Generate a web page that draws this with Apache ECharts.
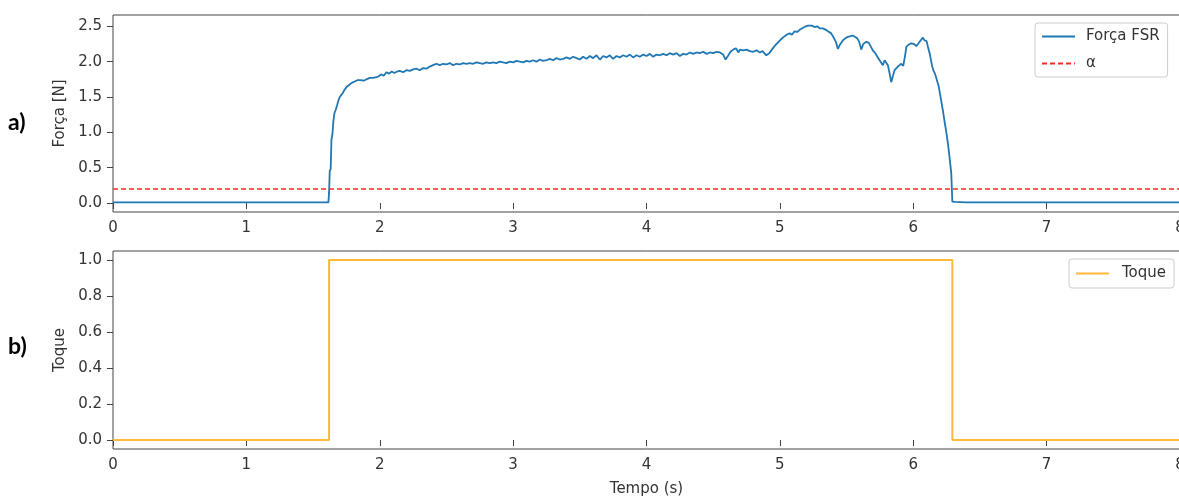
<!DOCTYPE html>
<html><head><meta charset="utf-8">
<script src="https://cdn.jsdelivr.net/npm/echarts@6/dist/echarts.min.js"></script>
<style>html,body{margin:0;padding:0;background:#fff}#c{width:1179px;height:497px}</style>
</head><body><div id="c"></div>
<script>
// ---- data ----
const fsrTime = [0,1.615,1.620,1.625,1.632,1.638,1.645,1.652,1.660,1.670,1.680,1.690,1.700,1.712,1.724,1.735,1.745,1.755,1.770,1.790,1.812,1.835,1.860,1.880,1.900,1.925,1.950,1.975,1.990,2.010,2.030,2.050,2.070,2.090,2.110,2.130,2.150,2.175,2.200,2.225,2.250,2.275,2.300,2.325,2.350,2.375,2.400,2.425,2.450,2.475,2.500,2.525,2.550,2.575,2.600,2.625,2.650,2.675,2.700,2.725,2.750,2.775,2.800,2.825,2.850,2.875,2.900,2.925,2.950,2.975,3.000,3.025,3.050,3.075,3.100,3.125,3.150,3.175,3.200,3.225,3.250,3.275,3.300,3.325,3.350,3.375,3.400,3.425,3.450,3.475,3.500,3.525,3.550,3.575,3.600,3.625,3.650,3.675,3.700,3.725,3.750,3.775,3.800,3.825,3.850,3.875,3.900,3.925,3.950,3.975,4.000,4.025,4.050,4.075,4.100,4.125,4.150,4.175,4.200,4.225,4.250,4.275,4.300,4.325,4.350,4.375,4.400,4.425,4.450,4.475,4.500,4.525,4.550,4.575,4.593,4.610,4.630,4.650,4.670,4.690,4.700,4.725,4.750,4.775,4.800,4.825,4.850,4.870,4.898,4.920,4.940,4.960,4.975,4.990,5.010,5.030,5.050,5.073,5.090,5.110,5.130,5.148,5.160,5.175,5.195,5.210,5.223,5.240,5.260,5.280,5.300,5.323,5.345,5.360,5.385,5.400,5.420,5.435,5.450,5.472,5.490,5.510,5.530,5.547,5.565,5.580,5.595,5.610,5.625,5.648,5.665,5.680,5.697,5.715,5.735,5.755,5.772,5.785,5.797,5.810,5.822,5.835,5.848,5.860,5.873,5.890,5.910,5.925,5.940,5.948,5.965,5.985,6.005,6.023,6.040,6.055,6.072,6.085,6.100,6.110,6.125,6.140,6.150,6.165,6.180,6.190,6.200,6.212,6.222,6.235,6.248,6.260,6.272,6.285,6.293,6.310,6.400,8.000];
const fsrForce = [0.01,0.01,0.15,0.45,0.48,0.90,0.97,1.15,1.27,1.32,1.38,1.45,1.50,1.53,1.56,1.60,1.62,1.65,1.67,1.70,1.72,1.74,1.74,1.73,1.75,1.77,1.77,1.78,1.79,1.82,1.80,1.85,1.83,1.86,1.84,1.86,1.87,1.85,1.88,1.87,1.89,1.90,1.88,1.91,1.90,1.93,1.95,1.97,1.95,1.97,1.96,1.98,1.95,1.97,1.96,1.98,1.97,1.98,1.97,1.99,1.98,1.97,1.99,1.98,1.99,1.98,2.00,1.99,1.98,2.00,1.99,2.01,2.00,1.99,2.01,2.00,2.02,2.00,2.03,2.01,2.02,2.04,2.02,2.05,2.03,2.04,2.06,2.04,2.07,2.05,2.03,2.07,2.04,2.08,2.05,2.09,2.03,2.08,2.06,2.09,2.04,2.08,2.06,2.09,2.07,2.10,2.06,2.09,2.07,2.10,2.08,2.11,2.07,2.10,2.09,2.11,2.09,2.12,2.10,2.12,2.08,2.11,2.10,2.13,2.11,2.13,2.12,2.14,2.11,2.13,2.12,2.14,2.13,2.10,2.03,2.08,2.14,2.17,2.19,2.13,2.17,2.16,2.17,2.15,2.14,2.16,2.13,2.15,2.09,2.12,2.17,2.22,2.25,2.28,2.32,2.35,2.38,2.40,2.38,2.43,2.42,2.45,2.43,2.48,2.50,2.51,2.53,2.51,2.49,2.50,2.47,2.47,2.45,2.43,2.40,2.35,2.28,2.18,2.24,2.30,2.33,2.35,2.36,2.37,2.35,2.33,2.28,2.17,2.25,2.28,2.27,2.22,2.16,2.12,2.06,2.00,1.95,2.02,2.04,1.95,1.84,1.71,1.80,1.88,1.86,1.94,1.97,1.94,2.10,2.21,2.24,2.26,2.25,2.22,2.26,2.30,2.34,2.30,2.29,2.21,2.10,1.95,1.88,1.82,1.72,1.66,1.55,1.42,1.31,1.15,1.00,0.84,0.65,0.42,0.02,0.015,0.01,0.01];
const alphaValue = 0.2;
const toqueTime = [0, 1.62, 1.62, 6.293, 6.293, 8];
const toqueValue = [0, 0, 1, 1, 0, 0];
const xTicks = [0,1,2,3,4,5,6,7,8];
const forceTicks = [0,0.5,1.0,1.5,2.0,2.5];
const toqueTicks = [0,0.2,0.4,0.6,0.8,1.0];

const FONT = 'DejaVu Sans';
const TXT = '#333';
const AX = '#444';
const pairs = (xs, ys) => xs.map((x, i) => [x, ys[i]]);

function xAxis(gi, name) {
  return {
    type: 'value', gridIndex: gi, min: 0, max: 8, interval: 1,
    axisLine: {show: false}, splitLine: {show: false},
    axisTick: {show: true, length: 6, lineStyle: {color: AX}, customValues: xTicks},
    axisLabel: {fontFamily: FONT, fontSize: 15, color: TXT, margin: 9, customValues: xTicks, formatter: v => String(v)},
    name: name || '', nameLocation: 'middle', nameGap: 33,
    nameTextStyle: {fontFamily: FONT, fontSize: 15, color: TXT}
  };
}
function yAxis(gi, min, max, ticks, name) {
  return {
    type: 'value', gridIndex: gi, min: min, max: max,
    axisLine: {show: false}, splitLine: {show: false},
    axisTick: {show: true, length: 6, lineStyle: {color: AX}, customValues: ticks},
    axisLabel: {fontFamily: FONT, fontSize: 15, color: TXT, margin: 11, customValues: ticks, formatter: v => v.toFixed(1)},
    name: name, nameLocation: 'middle', nameGap: 44, nameRotate: 90,
    nameTextStyle: {fontFamily: FONT, fontSize: 15, color: TXT}
  };
}

const chart = echarts.init(document.getElementById('c'), null, {renderer: 'canvas'});
chart.setOption({
  animation: false,
  backgroundColor: '#fff',
  title: [
    {text: 'a)', left: 8, top: 111, padding: 0, textStyle: {fontFamily: 'Lato', fontWeight: 'bold', fontSize: 23, color: '#000'}},
    {text: 'b)', left: 8, top: 335, padding: 0, textStyle: {fontFamily: 'Lato', fontWeight: 'bold', fontSize: 23, color: '#000'}}
  ],
  grid: [
    {left: 113, top: 15, width: 1067, height: 197, outerBoundsMode: 'none', containLabel: false, show: true, borderColor: AX, borderWidth: 1, backgroundColor: 'transparent'},
    {left: 113, top: 251, width: 1067, height: 198, outerBoundsMode: 'none', containLabel: false, show: true, borderColor: AX, borderWidth: 1, backgroundColor: 'transparent'}
  ],
  xAxis: [xAxis(0), xAxis(1, 'Tempo (s)')],
  yAxis: [yAxis(0, -0.127, 2.66, forceTicks, 'Força [N]'), yAxis(1, -0.05, 1.05, toqueTicks, 'Toque')],
  legend: [
    {data: ['Força FSR', 'α'], orient: 'vertical', left: 1035, top: 23, padding: [6, 8, 6, 6], itemGap: 12,
     itemWidth: 33, itemHeight: 14, borderColor: '#ccc', borderWidth: 1, borderRadius: 3,
     itemStyle: {opacity: 0},
     textStyle: {fontFamily: FONT, fontSize: 15, color: TXT, padding: [0, 0, 0, 6]}},
    {data: ['Toque'], orient: 'vertical', left: 1069, top: 259, padding: [7, 8, 7, 6],
     itemWidth: 33, itemHeight: 14, borderColor: '#ccc', borderWidth: 1, borderRadius: 3,
     itemStyle: {opacity: 0},
     textStyle: {fontFamily: FONT, fontSize: 15, color: TXT, padding: [0, 0, 0, 8]}}
  ],
  series: [
    {name: 'Força FSR', type: 'line', xAxisIndex: 0, yAxisIndex: 0, data: pairs(fsrTime, fsrForce),
     showSymbol: false, symbol: 'none', color: '#1f77b4', lineStyle: {color: '#1f77b4', width: 1.8}},
    {name: 'α', type: 'line', xAxisIndex: 0, yAxisIndex: 0, data: [[0, alphaValue], [8, alphaValue]],
     showSymbol: false, symbol: 'none', color: '#ff2a2a', lineStyle: {color: '#ff2a2a', width: 1.5, type: [5, 3]}},
    {name: 'Toque', type: 'line', xAxisIndex: 1, yAxisIndex: 1, data: pairs(toqueTime, toqueValue),
     showSymbol: false, symbol: 'none', color: '#ffb838', lineStyle: {color: '#ffb838', width: 2}}
  ]
});
</script></body></html>
